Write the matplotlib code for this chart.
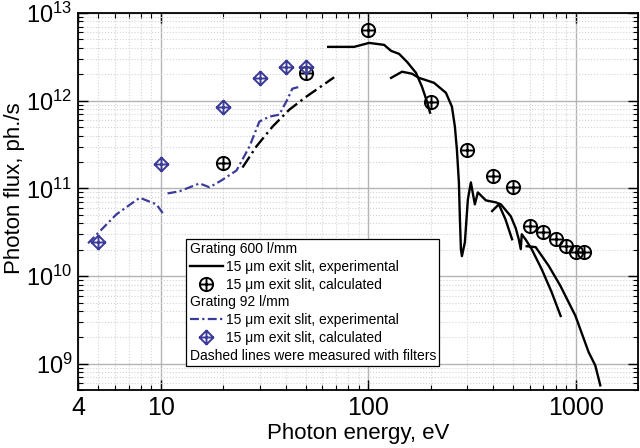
import matplotlib
matplotlib.use('Agg')
import matplotlib.pyplot as plt
from matplotlib.path import Path
from matplotlib.lines import Line2D
from matplotlib.ticker import LogLocator, NullFormatter, LogFormatterMathtext

plt.rcParams['font.family'] = ['Liberation Sans', 'DejaVu Sans']
plt.rcParams['mathtext.fontset'] = 'custom'
plt.rcParams['mathtext.rm'] = 'Liberation Sans'
plt.rcParams['mathtext.it'] = 'Liberation Sans:italic'

# --- data ---
# grating 600 l/mm, calculated
calc600_e = [20, 50, 100, 200, 300, 400, 500, 600, 700, 800, 900, 1000, 1100]
calc600_f = [1.97e11, 2.08e12, 6.4e12, 9.7e11, 2.77e11, 1.4e11, 1.05e11,
             3.7e10, 3.16e10, 2.63e10, 2.19e10, 1.88e10, 1.88e10]

# grating 92 l/mm, calculated
calc92_e = [5, 10, 20, 30, 40, 50]
calc92_f = [2.43e10, 1.92e11, 8.5e11, 1.82e12, 2.43e12, 2.43e12]

# grating 600 l/mm, experimental (solid pieces)
exp600a_e = [64.2, 85.6, 101.1, 119.4, 129, 141, 154, 170, 181.8, 192.2, 198.7]
exp600a_f = [4.11e12, 4.11e12, 4.56e12, 4.33e12, 3.70e12, 3.42e12, 2.77e12,
             2.08e12, 1.44e12, 9.75e11, 7.31e11]

exp600b_e = [129, 145.7, 162.7, 175.9, 207.7, 237.1, 253.4, 261.9, 267.8, 273.8,
             276.9, 280.0, 283.1, 292.6, 302.5, 312.7, 326.8, 337.9, 369.3, 412.5,
             436.1, 487.0, 514.7, 532.1, 544.0, 550.1, 575, 614, 686, 766, 847]
exp600b_f = [1.82e12, 2.14e12, 2.03e12, 1.82e12, 1.60e12, 1.23e12, 8.55e11, 5.06e11,
             2.77e11, 1.17e11, 4.44e10, 2.03e10, 1.69e10, 2.43e10, 7.5e10, 1.17e11,
             6.58e10, 9.0e10, 7.3e10, 6.93e10, 6.58e10, 4.81e10, 3.51e10, 2.63e10,
             2.03e10, 3.0e10, 2.6e10, 2.03e10, 1.2e10, 6.58e9, 3.51e9]

exp600c_e = [396, 426.5, 459, 494]
exp600c_f = [5.52e10, 6.58e10, 4.44e10, 2.63e10]

exp600d_e = [581, 642, 741.6, 844, 997, 1155, 1244, 1315]
exp600d_f = [2.19e10, 2.14e10, 1.31e10, 7.76e9, 3.54e9, 1.36e9, 9.57e8, 5.68e8]

# grating 600 l/mm, measured with filters (dash-dot)
filt600_e = [24.8, 28.9, 34.6, 41.7, 50.3, 68.6]
filt600_f = [1.73e11, 3.0e11, 5.06e11, 7.9e11, 1.11e12, 1.85e12]

# grating 92 l/mm, experimental (two ranges)
exp92a_e = [4.47, 6.12, 6.96, 7.93, 9.53, 10.26]
exp92a_f = [2.37e10, 5.06e10, 6.29e10, 7.83e10, 6.58e10, 5.2e10]

exp92b_e = [10.8, 12.3, 15.4, 17.2, 19.6, 23.2, 26.8, 29.9, 33.4, 37.3, 40.8, 43.1, 46.6]
exp92b_f = [8.77e10, 9.25e10, 1.14e11, 1.03e11, 1.23e11, 1.6e11, 3.0e11, 5.77e11,
            6.58e11, 6.93e11, 1.03e12, 1.37e12, 1.44e12]

blue = '#3b3b99'
dashdot_k = (0, (5.5, 1.8, 1, 1.8))
dashdot_b = (0, (4, 1.5, 1, 1.5))

# markers: circle with plus, diamond with plus
plus = Path([[-1, 0], [1, 0], [0, -1], [0, 1]],
            [Path.MOVETO, Path.LINETO, Path.MOVETO, Path.LINETO])
circle_plus = Path.make_compound_path(Path.unit_circle(), plus)
diamond = Path([[0, 1], [1, 0], [0, -1], [-1, 0], [0, 1]],
               [Path.MOVETO, Path.LINETO, Path.LINETO, Path.LINETO, Path.CLOSEPOLY])
diamond_plus = Path.make_compound_path(diamond, plus)

fig, ax = plt.subplots(figsize=(6.4, 4.48), dpi=100)
fig.subplots_adjust(left=0.122, right=0.997, bottom=0.129, top=0.971)

# experimental curves
for e, f in [(exp600a_e, exp600a_f), (exp600b_e, exp600b_f),
             (exp600c_e, exp600c_f), (exp600d_e, exp600d_f)]:
    ax.plot(e, f, color='black', lw=1.7, solid_joinstyle='round')
ax.plot(filt600_e, filt600_f, color='black', lw=1.7, linestyle=dashdot_k)
ax.plot(exp92a_e, exp92a_f, color=blue, lw=1.6, linestyle=dashdot_b)
ax.plot(exp92b_e, exp92b_f, color=blue, lw=1.6, linestyle=dashdot_b)

# calculated points
ax.plot(calc600_e, calc600_f, linestyle='none', marker=circle_plus, ms=9.5,
        mfc='none', mec='black', mew=1.4)
ax.plot(calc92_e, calc92_f, linestyle='none', marker=diamond_plus, ms=10,
        mfc='none', mec=blue, mew=1.4)

ax.set_xscale('log')
ax.set_yscale('log')
ax.set_xlim(4, 2000)
ax.set_ylim(5e8, 1e13)

ax.set_xticks([4, 10, 100, 1000], labels=['4', '10', '100', '1000'])
ax.xaxis.set_minor_locator(LogLocator(base=10, subs=range(2, 10), numticks=20))
ax.xaxis.set_minor_formatter(NullFormatter())
ax.yaxis.set_major_locator(LogLocator(base=10, numticks=10))
ax.yaxis.set_major_formatter(LogFormatterMathtext())
ax.yaxis.set_minor_locator(LogLocator(base=10, subs=range(2, 10), numticks=20))
ax.yaxis.set_minor_formatter(NullFormatter())

ax.tick_params(which='both', direction='in', top=True, right=True)
ax.tick_params(which='major', length=7, width=1)
ax.tick_params(which='minor', length=3.5, width=0.8)
ax.tick_params(axis='x', labelsize=18, pad=4)
ax.tick_params(axis='y', labelsize=17, pad=4)

ax.grid(True, which='major', color='#b4b4b4', lw=1.0, ls='-')
ax.grid(True, which='minor', color='#d4d4d4', lw=0.8, ls=':')
ax.set_axisbelow(True)
for s in ax.spines.values():
    s.set_linewidth(1.3)

ax.set_xlabel('Photon energy, eV', fontsize=16)
ax.xaxis.set_label_coords(0.5, -0.087)
ax.set_ylabel('Photon flux, ph./s', fontsize=16)
ax.yaxis.set_label_coords(-0.095, 0.535)

# legend with two header rows and a note row
blank = Line2D([], [], linestyle='none')
h_exp600 = Line2D([], [], color='black', lw=1.7)
h_calc600 = Line2D([], [], linestyle='none', marker=circle_plus, ms=9.5,
                   mfc='none', mec='black', mew=1.4)
h_exp92 = Line2D([], [], color=blue, lw=1.6, linestyle=dashdot_b)
h_calc92 = Line2D([], [], linestyle='none', marker=diamond_plus, ms=10,
                  mfc='none', mec=blue, mew=1.4)
handles = [blank, h_exp600, h_calc600, blank, h_exp92, h_calc92, blank]
labels = ['Grating 600 l/mm',
          '15 \u03bcm exit slit, experimental',
          '15 \u03bcm exit slit, calculated',
          'Grating 92 l/mm',
          '15 \u03bcm exit slit, experimental',
          '15 \u03bcm exit slit, calculated',
          'Dashed lines were measured with filters']
leg = ax.legend(handles, labels, loc='lower left', bbox_to_anchor=(0.193, 0.064),
                borderaxespad=0, fontsize=10, frameon=True, fancybox=False,
                edgecolor='black', framealpha=1, handlelength=2.4,
                handletextpad=0.25, labelspacing=0.27, borderpad=0.25)
leg.get_frame().set_linewidth(0.9)

# header rows: no handle space
rows = leg._legend_handle_box.get_children()[0].get_children()
for i in (0, 3, 6):
    rows[i].sep = 0
    rows[i].get_children()[0].width = 0

fig.savefig('out.png', dpi=100)
